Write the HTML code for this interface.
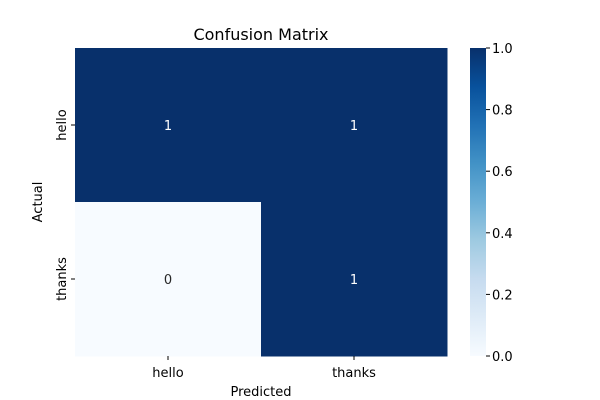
<!DOCTYPE html>
<html><head><meta charset="utf-8"><style>
body{margin:0;background:#fff;}
svg{display:block;font-family:"DejaVu Sans","Liberation Sans",sans-serif;}
</style></head><body>
<svg id="chart" width="600" height="400" xmlns="http://www.w3.org/2000/svg">
<defs><linearGradient id="blues" x1="0" y1="1" x2="0" y2="0">
<stop offset="0" stop-color="#f7fbff"/><stop offset="0.125" stop-color="#deebf7"/><stop offset="0.25" stop-color="#c6dbef"/><stop offset="0.375" stop-color="#9ecae1"/><stop offset="0.5" stop-color="#6baed6"/><stop offset="0.625" stop-color="#4292c6"/><stop offset="0.75" stop-color="#2171b5"/><stop offset="0.875" stop-color="#08519c"/><stop offset="1" stop-color="#08306b"/>
</linearGradient></defs>
<text x="261" y="40" font-size="16" text-anchor="middle">Confusion Matrix</text>
<g id="cells"></g>
<g id="axes"></g>
<rect x="470" y="48" width="16" height="308" fill="url(#blues)"/>
<g id="cbar"></g>
<text x="261" y="396" font-size="13" text-anchor="middle">Predicted</text>
<text transform="translate(42,202) rotate(-90)" font-size="13" text-anchor="middle">Actual</text>
</svg>
<script>
const labels = ["hello", "thanks"];
const matrix = [[1, 1], [0, 1]];
const cbarTicks = [0, 0.2, 0.4, 0.6, 0.8, 1.0];
const vmin = 0, vmax = 1;
const NS = "http://www.w3.org/2000/svg";
const X0 = 75, X1 = 447, Y0 = 48, Y1 = 356;
const cw = (X1 - X0) / labels.length, ch = (Y1 - Y0) / labels.length;
const stops = ["#f7fbff","#deebf7","#c6dbef","#9ecae1","#6baed6","#4292c6","#2171b5","#08519c","#08306b"];
function hex(h){return [1,3,5].map(i=>parseInt(h.substr(i,2),16));}
function color(v){
  let t = (v - vmin) / (vmax - vmin) * (stops.length - 1);
  let i = Math.min(Math.floor(t), stops.length - 2), f = t - i;
  let a = hex(stops[i]), b = hex(stops[i+1]);
  return "rgb(" + a.map((c,k)=>Math.round(c + (b[k]-c)*f)).join(",") + ")";
}
function mk(tag, attrs, parent, txt){
  const e = document.createElementNS(NS, tag);
  for (const k in attrs) e.setAttribute(k, attrs[k]);
  if (txt !== undefined) e.textContent = txt;
  parent.appendChild(e); return e;
}
const cells = document.getElementById("cells"), axes = document.getElementById("axes"), cbar = document.getElementById("cbar");
matrix.forEach((row, r) => row.forEach((v, c) => {
  const rc = mk("rect", {x: X0 + c*cw, y: Y0 + r*ch, width: cw + 0.5, height: ch + 0.5, fill: color(v)}, cells);
  
  
  const t = mk("text", {x: X0 + (c+0.5)*cw, y: Y0 + (r+0.5)*ch + 5, "font-size": 13, "text-anchor": "middle", fill: v > 0.5 ? "#fff" : "#262626"}, cells, String(v));
  
  
}));
labels.forEach((l, i) => {
  const cx = X0 + (i+0.5)*cw;
  mk("line", {x1: cx, x2: cx, y1: Y1, y2: Y1 + 4, stroke: "#000"}, axes);
  const t = mk("text", {x: cx, y: Y1 + 21, "font-size": 13, "text-anchor": "middle"}, axes, l);
  
  
  const cy = Y0 + (i+0.5)*ch;
  mk("line", {x1: X0 - 4, x2: X0, y1: cy, y2: cy, stroke: "#000"}, axes);
  const ty = mk("text", {transform: "translate(" + (X0 - 9) + "," + cy + ") rotate(-90)", "font-size": 13, "text-anchor": "middle"}, axes, l);
  
  
});
cbarTicks.forEach(v => {
  const y = Y1 - (v - vmin) / (vmax - vmin) * (Y1 - Y0);
  mk("line", {x1: 486, x2: 490, y1: y, y2: y, stroke: "#000"}, cbar);
  const t = mk("text", {x: 492, y: y + 5, "font-size": 13}, cbar, v.toFixed(1));
  
  
});
</script>
</body></html>
